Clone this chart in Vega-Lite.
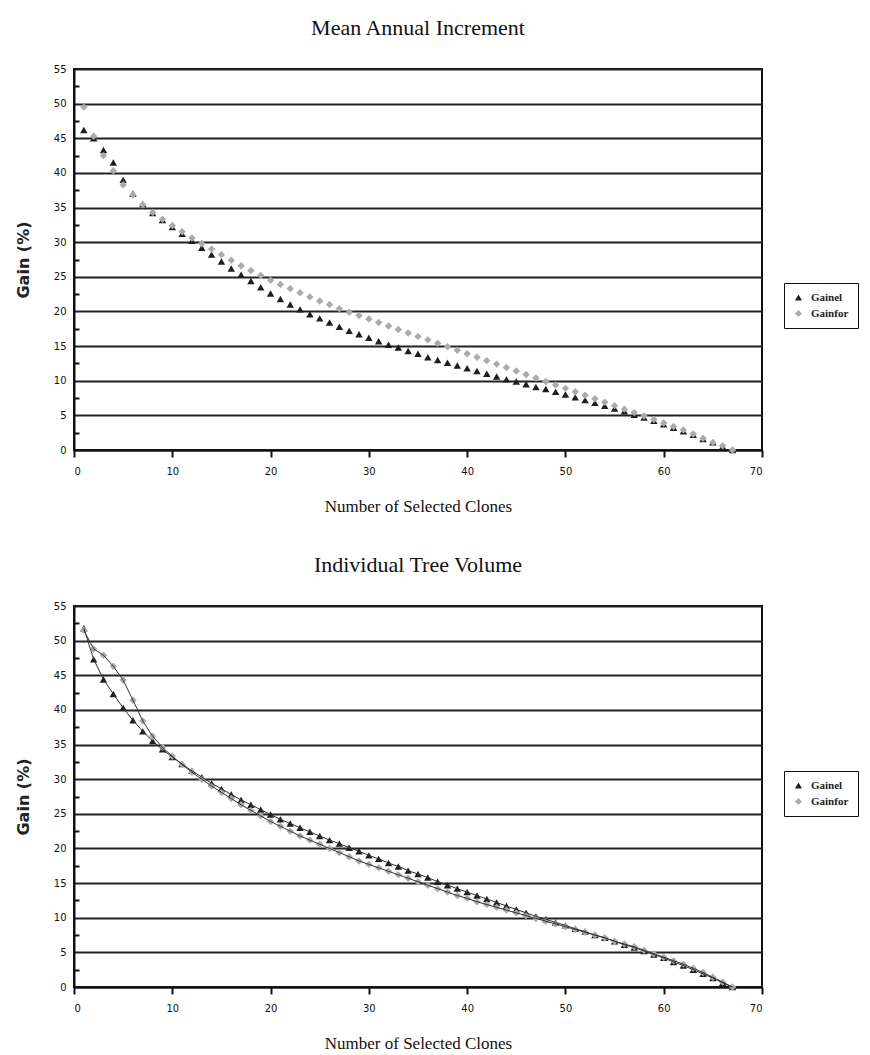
{
  "$schema": "https://vega.github.io/schema/vega-lite/v6.json",
  "background": "white",
  "padding": {"left": 14, "top": 16, "right": 0, "bottom": 0},
  "spacing": 38,
  "resolve": {"scale": {"color": "independent", "shape": "independent"}, "legend": {"color": "independent", "shape": "independent"}},
  "config": {
    "view": {"stroke": "#111", "strokeWidth": 2},
    "title": {"font": "Liberation Serif", "fontSize": 22, "fontWeight": "normal", "color": "#111", "offset": 24, "anchor": "middle"},
    "axis": {"labelFont": "DejaVu Sans", "labelFontSize": 10, "labelColor": "#111", "domainColor": "#111", "domainWidth": 2, "tickColor": "#111", "tickWidth": 2},
    "legend": {"labelFont": "Liberation Serif", "labelFontSize": 11, "labelFontWeight": "bold", "labelColor": "#222", "strokeColor": "#111", "padding": 9, "symbolSize": 50, "rowPadding": 4, "fillColor": "white", "labelLimit": 200, "labelOffset": 7}
  },
  "datasets": {
    "top": [
      {"clones":1,"series":"Gainel","gain":46.2},{"clones":2,"series":"Gainel","gain":45.0},{"clones":3,"series":"Gainel","gain":43.3},{"clones":4,"series":"Gainel","gain":41.5},{"clones":5,"series":"Gainel","gain":39.0},{"clones":6,"series":"Gainel","gain":37.0},{"clones":7,"series":"Gainel","gain":35.5},{"clones":8,"series":"Gainel","gain":34.2},{"clones":9,"series":"Gainel","gain":33.2},{"clones":10,"series":"Gainel","gain":32.2},
      {"clones":11,"series":"Gainel","gain":31.2},{"clones":12,"series":"Gainel","gain":30.2},{"clones":13,"series":"Gainel","gain":29.2},{"clones":14,"series":"Gainel","gain":28.2},{"clones":15,"series":"Gainel","gain":27.2},{"clones":16,"series":"Gainel","gain":26.2},{"clones":17,"series":"Gainel","gain":25.3},{"clones":18,"series":"Gainel","gain":24.4},{"clones":19,"series":"Gainel","gain":23.5},{"clones":20,"series":"Gainel","gain":22.6},
      {"clones":21,"series":"Gainel","gain":21.8},{"clones":22,"series":"Gainel","gain":21.0},{"clones":23,"series":"Gainel","gain":20.3},{"clones":24,"series":"Gainel","gain":19.6},{"clones":25,"series":"Gainel","gain":19.0},{"clones":26,"series":"Gainel","gain":18.4},{"clones":27,"series":"Gainel","gain":17.8},{"clones":28,"series":"Gainel","gain":17.2},{"clones":29,"series":"Gainel","gain":16.7},{"clones":30,"series":"Gainel","gain":16.2},
      {"clones":31,"series":"Gainel","gain":15.7},{"clones":32,"series":"Gainel","gain":15.2},{"clones":33,"series":"Gainel","gain":14.8},{"clones":34,"series":"Gainel","gain":14.3},{"clones":35,"series":"Gainel","gain":13.9},{"clones":36,"series":"Gainel","gain":13.4},{"clones":37,"series":"Gainel","gain":13.0},{"clones":38,"series":"Gainel","gain":12.6},{"clones":39,"series":"Gainel","gain":12.2},{"clones":40,"series":"Gainel","gain":11.8},
      {"clones":41,"series":"Gainel","gain":11.4},{"clones":42,"series":"Gainel","gain":11.0},{"clones":43,"series":"Gainel","gain":10.6},{"clones":44,"series":"Gainel","gain":10.2},{"clones":45,"series":"Gainel","gain":9.9},{"clones":46,"series":"Gainel","gain":9.5},{"clones":47,"series":"Gainel","gain":9.1},{"clones":48,"series":"Gainel","gain":8.8},{"clones":49,"series":"Gainel","gain":8.4},{"clones":50,"series":"Gainel","gain":8.0},
      {"clones":51,"series":"Gainel","gain":7.6},{"clones":52,"series":"Gainel","gain":7.2},{"clones":53,"series":"Gainel","gain":6.8},{"clones":54,"series":"Gainel","gain":6.4},{"clones":55,"series":"Gainel","gain":6.0},{"clones":56,"series":"Gainel","gain":5.6},{"clones":57,"series":"Gainel","gain":5.1},{"clones":58,"series":"Gainel","gain":4.7},{"clones":59,"series":"Gainel","gain":4.2},{"clones":60,"series":"Gainel","gain":3.7},
      {"clones":61,"series":"Gainel","gain":3.2},{"clones":62,"series":"Gainel","gain":2.7},{"clones":63,"series":"Gainel","gain":2.2},{"clones":64,"series":"Gainel","gain":1.6},{"clones":65,"series":"Gainel","gain":1.1},{"clones":66,"series":"Gainel","gain":0.5},{"clones":67,"series":"Gainel","gain":0.0},
      {"clones":1,"series":"Gainfor","gain":49.5},{"clones":2,"series":"Gainfor","gain":45.3},{"clones":3,"series":"Gainfor","gain":42.5},{"clones":4,"series":"Gainfor","gain":40.3},{"clones":5,"series":"Gainfor","gain":38.3},{"clones":6,"series":"Gainfor","gain":36.8},{"clones":7,"series":"Gainfor","gain":35.4},{"clones":8,"series":"Gainfor","gain":34.3},{"clones":9,"series":"Gainfor","gain":33.3},{"clones":10,"series":"Gainfor","gain":32.4},
      {"clones":11,"series":"Gainfor","gain":31.5},{"clones":12,"series":"Gainfor","gain":30.6},{"clones":13,"series":"Gainfor","gain":29.8},{"clones":14,"series":"Gainfor","gain":29.0},{"clones":15,"series":"Gainfor","gain":28.2},{"clones":16,"series":"Gainfor","gain":27.4},{"clones":17,"series":"Gainfor","gain":26.6},{"clones":18,"series":"Gainfor","gain":25.9},{"clones":19,"series":"Gainfor","gain":25.2},{"clones":20,"series":"Gainfor","gain":24.5},
      {"clones":21,"series":"Gainfor","gain":23.9},{"clones":22,"series":"Gainfor","gain":23.3},{"clones":23,"series":"Gainfor","gain":22.7},{"clones":24,"series":"Gainfor","gain":22.1},{"clones":25,"series":"Gainfor","gain":21.5},{"clones":26,"series":"Gainfor","gain":21.0},{"clones":27,"series":"Gainfor","gain":20.4},{"clones":28,"series":"Gainfor","gain":19.9},{"clones":29,"series":"Gainfor","gain":19.4},{"clones":30,"series":"Gainfor","gain":18.9},
      {"clones":31,"series":"Gainfor","gain":18.4},{"clones":32,"series":"Gainfor","gain":17.9},{"clones":33,"series":"Gainfor","gain":17.4},{"clones":34,"series":"Gainfor","gain":16.9},{"clones":35,"series":"Gainfor","gain":16.4},{"clones":36,"series":"Gainfor","gain":15.9},{"clones":37,"series":"Gainfor","gain":15.4},{"clones":38,"series":"Gainfor","gain":14.9},{"clones":39,"series":"Gainfor","gain":14.4},{"clones":40,"series":"Gainfor","gain":13.9},
      {"clones":41,"series":"Gainfor","gain":13.4},{"clones":42,"series":"Gainfor","gain":12.9},{"clones":43,"series":"Gainfor","gain":12.4},{"clones":44,"series":"Gainfor","gain":11.9},{"clones":45,"series":"Gainfor","gain":11.4},{"clones":46,"series":"Gainfor","gain":10.9},{"clones":47,"series":"Gainfor","gain":10.4},{"clones":48,"series":"Gainfor","gain":9.9},{"clones":49,"series":"Gainfor","gain":9.4},{"clones":50,"series":"Gainfor","gain":8.9},
      {"clones":51,"series":"Gainfor","gain":8.4},{"clones":52,"series":"Gainfor","gain":7.9},{"clones":53,"series":"Gainfor","gain":7.4},{"clones":54,"series":"Gainfor","gain":6.9},{"clones":55,"series":"Gainfor","gain":6.4},{"clones":56,"series":"Gainfor","gain":5.9},{"clones":57,"series":"Gainfor","gain":5.4},{"clones":58,"series":"Gainfor","gain":4.9},{"clones":59,"series":"Gainfor","gain":4.4},{"clones":60,"series":"Gainfor","gain":3.9},
      {"clones":61,"series":"Gainfor","gain":3.4},{"clones":62,"series":"Gainfor","gain":2.9},{"clones":63,"series":"Gainfor","gain":2.3},{"clones":64,"series":"Gainfor","gain":1.7},{"clones":65,"series":"Gainfor","gain":1.1},{"clones":66,"series":"Gainfor","gain":0.6},{"clones":67,"series":"Gainfor","gain":0.0}
    ],
    "bottom": [
      {"clones":1,"series":"Gainel","gain":51.8},{"clones":2,"series":"Gainel","gain":47.3},{"clones":3,"series":"Gainel","gain":44.4},{"clones":4,"series":"Gainel","gain":42.3},{"clones":5,"series":"Gainel","gain":40.3},{"clones":6,"series":"Gainel","gain":38.5},{"clones":7,"series":"Gainel","gain":36.9},{"clones":8,"series":"Gainel","gain":35.5},{"clones":9,"series":"Gainel","gain":34.3},{"clones":10,"series":"Gainel","gain":33.2},
      {"clones":11,"series":"Gainel","gain":32.2},{"clones":12,"series":"Gainel","gain":31.2},{"clones":13,"series":"Gainel","gain":30.3},{"clones":14,"series":"Gainel","gain":29.4},{"clones":15,"series":"Gainel","gain":28.6},{"clones":16,"series":"Gainel","gain":27.8},{"clones":17,"series":"Gainel","gain":27.0},{"clones":18,"series":"Gainel","gain":26.3},{"clones":19,"series":"Gainel","gain":25.6},{"clones":20,"series":"Gainel","gain":24.9},
      {"clones":21,"series":"Gainel","gain":24.2},{"clones":22,"series":"Gainel","gain":23.6},{"clones":23,"series":"Gainel","gain":23.0},{"clones":24,"series":"Gainel","gain":22.4},{"clones":25,"series":"Gainel","gain":21.8},{"clones":26,"series":"Gainel","gain":21.2},{"clones":27,"series":"Gainel","gain":20.7},{"clones":28,"series":"Gainel","gain":20.1},{"clones":29,"series":"Gainel","gain":19.6},{"clones":30,"series":"Gainel","gain":19.0},
      {"clones":31,"series":"Gainel","gain":18.5},{"clones":32,"series":"Gainel","gain":17.9},{"clones":33,"series":"Gainel","gain":17.4},{"clones":34,"series":"Gainel","gain":16.8},{"clones":35,"series":"Gainel","gain":16.3},{"clones":36,"series":"Gainel","gain":15.8},{"clones":37,"series":"Gainel","gain":15.2},{"clones":38,"series":"Gainel","gain":14.7},{"clones":39,"series":"Gainel","gain":14.2},{"clones":40,"series":"Gainel","gain":13.7},
      {"clones":41,"series":"Gainel","gain":13.2},{"clones":42,"series":"Gainel","gain":12.7},{"clones":43,"series":"Gainel","gain":12.2},{"clones":44,"series":"Gainel","gain":11.7},{"clones":45,"series":"Gainel","gain":11.2},{"clones":46,"series":"Gainel","gain":10.7},{"clones":47,"series":"Gainel","gain":10.2},{"clones":48,"series":"Gainel","gain":9.8},{"clones":49,"series":"Gainel","gain":9.3},{"clones":50,"series":"Gainel","gain":8.9},
      {"clones":51,"series":"Gainel","gain":8.4},{"clones":52,"series":"Gainel","gain":8.0},{"clones":53,"series":"Gainel","gain":7.5},{"clones":54,"series":"Gainel","gain":7.1},{"clones":55,"series":"Gainel","gain":6.6},{"clones":56,"series":"Gainel","gain":6.1},{"clones":57,"series":"Gainel","gain":5.7},{"clones":58,"series":"Gainel","gain":5.2},{"clones":59,"series":"Gainel","gain":4.7},{"clones":60,"series":"Gainel","gain":4.2},
      {"clones":61,"series":"Gainel","gain":3.6},{"clones":62,"series":"Gainel","gain":3.1},{"clones":63,"series":"Gainel","gain":2.5},{"clones":64,"series":"Gainel","gain":1.9},{"clones":65,"series":"Gainel","gain":1.3},{"clones":66,"series":"Gainel","gain":0.6},{"clones":67,"series":"Gainel","gain":0.0},
      {"clones":1,"series":"Gainfor","gain":51.5},{"clones":2,"series":"Gainfor","gain":48.8},{"clones":3,"series":"Gainfor","gain":47.9},{"clones":4,"series":"Gainfor","gain":46.3},{"clones":5,"series":"Gainfor","gain":44.3},{"clones":6,"series":"Gainfor","gain":41.4},{"clones":7,"series":"Gainfor","gain":38.4},{"clones":8,"series":"Gainfor","gain":36.2},{"clones":9,"series":"Gainfor","gain":34.6},{"clones":10,"series":"Gainfor","gain":33.3},
      {"clones":11,"series":"Gainfor","gain":32.1},{"clones":12,"series":"Gainfor","gain":31.0},{"clones":13,"series":"Gainfor","gain":30.0},{"clones":14,"series":"Gainfor","gain":29.0},{"clones":15,"series":"Gainfor","gain":28.1},{"clones":16,"series":"Gainfor","gain":27.2},{"clones":17,"series":"Gainfor","gain":26.3},{"clones":18,"series":"Gainfor","gain":25.5},{"clones":19,"series":"Gainfor","gain":24.7},{"clones":20,"series":"Gainfor","gain":23.9},
      {"clones":21,"series":"Gainfor","gain":23.2},{"clones":22,"series":"Gainfor","gain":22.5},{"clones":23,"series":"Gainfor","gain":21.8},{"clones":24,"series":"Gainfor","gain":21.2},{"clones":25,"series":"Gainfor","gain":20.6},{"clones":26,"series":"Gainfor","gain":20.0},{"clones":27,"series":"Gainfor","gain":19.4},{"clones":28,"series":"Gainfor","gain":18.8},{"clones":29,"series":"Gainfor","gain":18.2},{"clones":30,"series":"Gainfor","gain":17.7},
      {"clones":31,"series":"Gainfor","gain":17.2},{"clones":32,"series":"Gainfor","gain":16.7},{"clones":33,"series":"Gainfor","gain":16.2},{"clones":34,"series":"Gainfor","gain":15.7},{"clones":35,"series":"Gainfor","gain":15.2},{"clones":36,"series":"Gainfor","gain":14.7},{"clones":37,"series":"Gainfor","gain":14.2},{"clones":38,"series":"Gainfor","gain":13.7},{"clones":39,"series":"Gainfor","gain":13.2},{"clones":40,"series":"Gainfor","gain":12.8},
      {"clones":41,"series":"Gainfor","gain":12.3},{"clones":42,"series":"Gainfor","gain":11.9},{"clones":43,"series":"Gainfor","gain":11.5},{"clones":44,"series":"Gainfor","gain":11.1},{"clones":45,"series":"Gainfor","gain":10.7},{"clones":46,"series":"Gainfor","gain":10.3},{"clones":47,"series":"Gainfor","gain":9.9},{"clones":48,"series":"Gainfor","gain":9.5},{"clones":49,"series":"Gainfor","gain":9.1},{"clones":50,"series":"Gainfor","gain":8.7},
      {"clones":51,"series":"Gainfor","gain":8.3},{"clones":52,"series":"Gainfor","gain":7.9},{"clones":53,"series":"Gainfor","gain":7.5},{"clones":54,"series":"Gainfor","gain":7.1},{"clones":55,"series":"Gainfor","gain":6.6},{"clones":56,"series":"Gainfor","gain":6.2},{"clones":57,"series":"Gainfor","gain":5.8},{"clones":58,"series":"Gainfor","gain":5.3},{"clones":59,"series":"Gainfor","gain":4.8},{"clones":60,"series":"Gainfor","gain":4.3},
      {"clones":61,"series":"Gainfor","gain":3.8},{"clones":62,"series":"Gainfor","gain":3.3},{"clones":63,"series":"Gainfor","gain":2.7},{"clones":64,"series":"Gainfor","gain":2.1},{"clones":65,"series":"Gainfor","gain":1.4},{"clones":66,"series":"Gainfor","gain":0.7},{"clones":67,"series":"Gainfor","gain":0.0}
    ]
  },
  "vconcat": [
    {
      "width": 688,
      "height": 381,
      "title": "Mean Annual Increment",
      "data": {"name": "top"},
      "mark": {"type": "point", "filled": true, "size": 55, "opacity": 1},
      "encoding": {
        "x": {"field": "clones", "type": "quantitative", "scale": {"domain": [0, 70], "nice": false},
          "axis": {"values": [0,10,20,30,40,50,60,70], "grid": false, "tickSize": 7, "labelPadding": 9, "title": "Number of Selected Clones", "titleFont": "Liberation Serif", "titleFontSize": 17, "titleFontWeight": "normal", "titleColor": "#111", "titlePadding": 22}},
        "y": {"field": "gain", "type": "quantitative", "scale": {"domain": [0, 55], "nice": false},
          "axis": {"values": [0,2.5,5,7.5,10,12.5,15,17.5,20,22.5,25,27.5,30,32.5,35,37.5,40,42.5,45,47.5,50,52.5,55],
            "labelExpr": "datum.value % 5 === 0 ? datum.label : ''",
            "grid": true, "gridColor": "#222", "gridWidth": 2,
            "gridOpacity": {"condition": {"test": "datum.value % 5 === 0", "value": 1}, "value": 0},
            "tickSize": {"condition": {"test": "datum.value % 5 === 0", "value": 0}, "value": -5},
            "labelPadding": 8, "title": "Gain (%)", "titleFont": "DejaVu Sans", "titleFontSize": 16, "titleFontWeight": "bold", "titleColor": "#222", "titlePadding": 22}},
        "color": {"field": "series", "type": "nominal", "scale": {"domain": ["Gainel", "Gainfor"], "range": ["#1e1e1e", "#ababab"]},
          "legend": {"title": null, "orient": "none", "legendX": 710, "legendY": 214}},
        "shape": {"field": "series", "type": "nominal", "scale": {"domain": ["Gainel", "Gainfor"], "range": ["triangle-up", "diamond"]},
          "legend": {"title": null, "orient": "none", "legendX": 710, "legendY": 214}}
      }
    },
    {
      "width": 688,
      "height": 381,
      "title": "Individual Tree Volume",
      "data": {"name": "bottom"},
      "encoding": {
        "x": {"field": "clones", "type": "quantitative", "scale": {"domain": [0, 70], "nice": false},
          "axis": {"values": [0,10,20,30,40,50,60,70], "grid": false, "tickSize": 7, "labelPadding": 9, "title": "Number of Selected Clones", "titleFont": "Liberation Serif", "titleFontSize": 17, "titleFontWeight": "normal", "titleColor": "#111", "titlePadding": 22}},
        "y": {"field": "gain", "type": "quantitative", "scale": {"domain": [0, 55], "nice": false},
          "axis": {"values": [0,2.5,5,7.5,10,12.5,15,17.5,20,22.5,25,27.5,30,32.5,35,37.5,40,42.5,45,47.5,50,52.5,55],
            "labelExpr": "datum.value % 5 === 0 ? datum.label : ''",
            "grid": true, "gridColor": "#222", "gridWidth": 2,
            "gridOpacity": {"condition": {"test": "datum.value % 5 === 0", "value": 1}, "value": 0},
            "tickSize": {"condition": {"test": "datum.value % 5 === 0", "value": 0}, "value": -5},
            "labelPadding": 8, "title": "Gain (%)", "titleFont": "DejaVu Sans", "titleFontSize": 16, "titleFontWeight": "bold", "titleColor": "#222", "titlePadding": 22}}
      },
      "layer": [
        {
          "mark": {"type": "point", "filled": true, "size": 55, "opacity": 1},
          "encoding": {
            "color": {"field": "series", "type": "nominal", "scale": {"domain": ["Gainel", "Gainfor"], "range": ["#1e1e1e", "#ababab"]},
              "legend": {"title": null, "orient": "none", "legendX": 710, "legendY": 165}},
            "shape": {"field": "series", "type": "nominal", "scale": {"domain": ["Gainel", "Gainfor"], "range": ["triangle-up", "diamond"]},
              "legend": {"title": null, "orient": "none", "legendX": 710, "legendY": 165}}
          }
        },
        {
          "mark": {"type": "line", "color": "#333", "strokeWidth": 1},
          "encoding": {"detail": {"field": "series", "type": "nominal"}}
        }
      ]
    }
  ]
}
